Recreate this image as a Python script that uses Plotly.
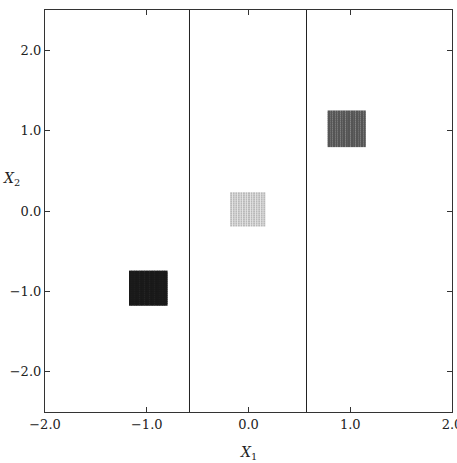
import plotly.graph_objects as go

# Tick values / labels
x_ticks = [-2.0, -1.0, 0.0, 1.0, 2.0]
x_ticklabels = ["\u22122.0", "\u22121.0", "0.0", "1.0", "2.0"]
y_ticks = [-2.0, -1.0, 0.0, 1.0, 2.0]
y_ticklabels = ["\u22122.0", "\u22121.0", "0.0", "1.0", "2.0"]

# Decision boundaries (vertical lines)
boundaries = [-0.58, 0.57]

# Cluster grids (grid coordinates)
dark_x = [-1.16, -1.135, -1.11, -1.085, -1.06, -1.035, -1.01, -0.985, -0.96, -0.935, -0.91, -0.885, -0.86, -0.835, -0.81]
dark_y = [-1.16, -1.135, -1.11, -1.085, -1.06, -1.035, -1.01, -0.985, -0.96, -0.935, -0.91, -0.885, -0.86, -0.835, -0.81, -0.785, -0.76]
light_x = [-0.17, -0.145, -0.12, -0.095, -0.07, -0.045, -0.02, 0.005, 0.03, 0.055, 0.08, 0.105, 0.13, 0.155]
light_y = [-0.18, -0.155, -0.13, -0.105, -0.08, -0.055, -0.03, -0.005, 0.02, 0.045, 0.07, 0.095, 0.12, 0.145, 0.17, 0.195, 0.22]
med_x = [0.79, 0.815, 0.84, 0.865, 0.89, 0.915, 0.94, 0.965, 0.99, 1.015, 1.04, 1.065, 1.09, 1.115, 1.14]
med_y = [0.81, 0.835, 0.86, 0.885, 0.91, 0.935, 0.96, 0.985, 1.01, 1.035, 1.06, 1.085, 1.11, 1.135, 1.16, 1.185, 1.21, 1.235]


def grid(xs, ys):
    px, py = [], []
    for yv in ys:
        for xv in xs:
            px.append(xv)
            py.append(yv)
    return px, py


fig = go.Figure()
for xs, ys, color, size in [
    (dark_x, dark_y, "#1a1a1a", 3),
    (light_x, light_y, "#b8b8b8", 2),
    (med_x, med_y, "#555555", 2.5),
]:
    px, py = grid(xs, ys)
    fig.add_trace(go.Scatter(x=px, y=py, mode="markers",
                             marker=dict(symbol="square", size=size, color=color, line=dict(width=0)),
                             showlegend=False, hoverinfo="skip"))

for b in boundaries:
    fig.add_shape(type="line", xref="x", yref="y", x0=b, x1=b, y0=-2.5, y1=2.5,
                  line=dict(color="#222", width=1))

font = dict(family="DejaVu Serif", size=13, color="#222")
fig.update_xaxes(range=[-2.0, 2.0], tickvals=x_ticks, ticktext=x_ticklabels,
                 ticks="inside", ticklen=5, tickcolor="#333", mirror="ticks",
                 showline=True, linecolor="#333", linewidth=1.2, showgrid=False,
                 zeroline=False, tickfont=font, ticklabeloverflow="allow", automargin=False)
fig.update_yaxes(range=[-2.5, 2.5], tickvals=y_ticks, ticktext=y_ticklabels,
                 ticks="inside", ticklen=5, tickcolor="#333", mirror="ticks",
                 showline=True, linecolor="#333", linewidth=1.2, showgrid=False,
                 zeroline=False, tickfont=font, automargin=False)

fig.add_annotation(text="<i>X</i><sub>1</sub>", xref="paper", yref="paper", x=0.5, y=-0.075,
                   yanchor="top", showarrow=False, font=dict(family="DejaVu Serif", size=14, color="#222"))
fig.add_annotation(text="<i>X</i><sub>2</sub>", xref="paper", yref="y", x=-0.108, y=0.4,
                   xanchor="left", showarrow=False, font=dict(family="DejaVu Serif", size=14, color="#222"))

fig.update_layout(width=457, height=463, margin=dict(l=45, r=5, t=10, b=51),
                  plot_bgcolor="white", paper_bgcolor="white")
fig.write_html("out.html")
